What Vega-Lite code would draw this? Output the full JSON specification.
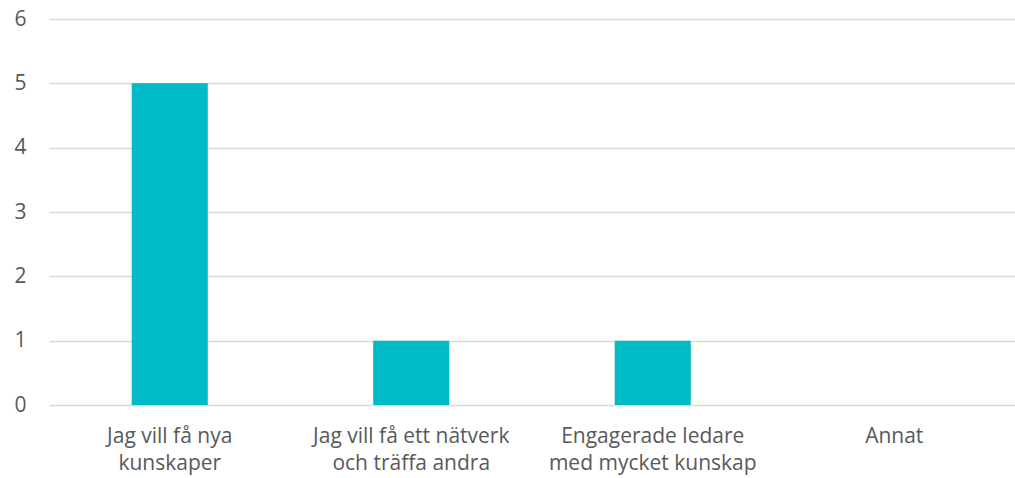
{
  "$schema": "https://vega.github.io/schema/vega-lite/v6.json",
  "width": 966,
  "height": 386,
  "autosize": {"type": "none"},
  "padding": {"left": 49, "top": 19, "right": 0, "bottom": 73},
  "background": "white",
  "config": {"view": {"stroke": null}, "font": "Open Sans"},
  "data": {
    "values": [
      {"kategori": "Jag vill få nya|kunskaper", "antal": 5},
      {"kategori": "Jag vill få ett nätverk|och träffa andra", "antal": 1},
      {"kategori": "Engagerade ledare|med mycket kunskap", "antal": 1},
      {"kategori": "Annat", "antal": 0}
    ]
  },
  "mark": {"type": "bar", "color": "#00BAC6"},
  "encoding": {
    "x": {
      "field": "kategori",
      "type": "nominal",
      "sort": null,
      "scale": {"paddingInner": 0.685, "paddingOuter": 0.3425},
      "axis": {
        "title": null,
        "labelAngle": 0,
        "labelExpr": "split(datum.label, '|')",
        "labelFont": "Open Sans",
        "labelFontSize": 21,
        "labelColor": "#595959",
        "labelLineHeight": 27,
        "labelPadding": 20,
        "ticks": false,
        "domain": false,
        "labelLimit": 300
      }
    },
    "y": {
      "field": "antal",
      "type": "quantitative",
      "scale": {"domain": [0, 6]},
      "axis": {
        "title": null,
        "values": [0, 1, 2, 3, 4, 5, 6],
        "labelOverlap": false,
        "labelFont": "Open Sans",
        "labelFontSize": 21,
        "labelColor": "#595959",
        "labelPadding": 23,
        "ticks": false,
        "domain": false,
        "gridColor": "#d9d9d9",
        "gridWidth": 1.5
      }
    }
  }
}
